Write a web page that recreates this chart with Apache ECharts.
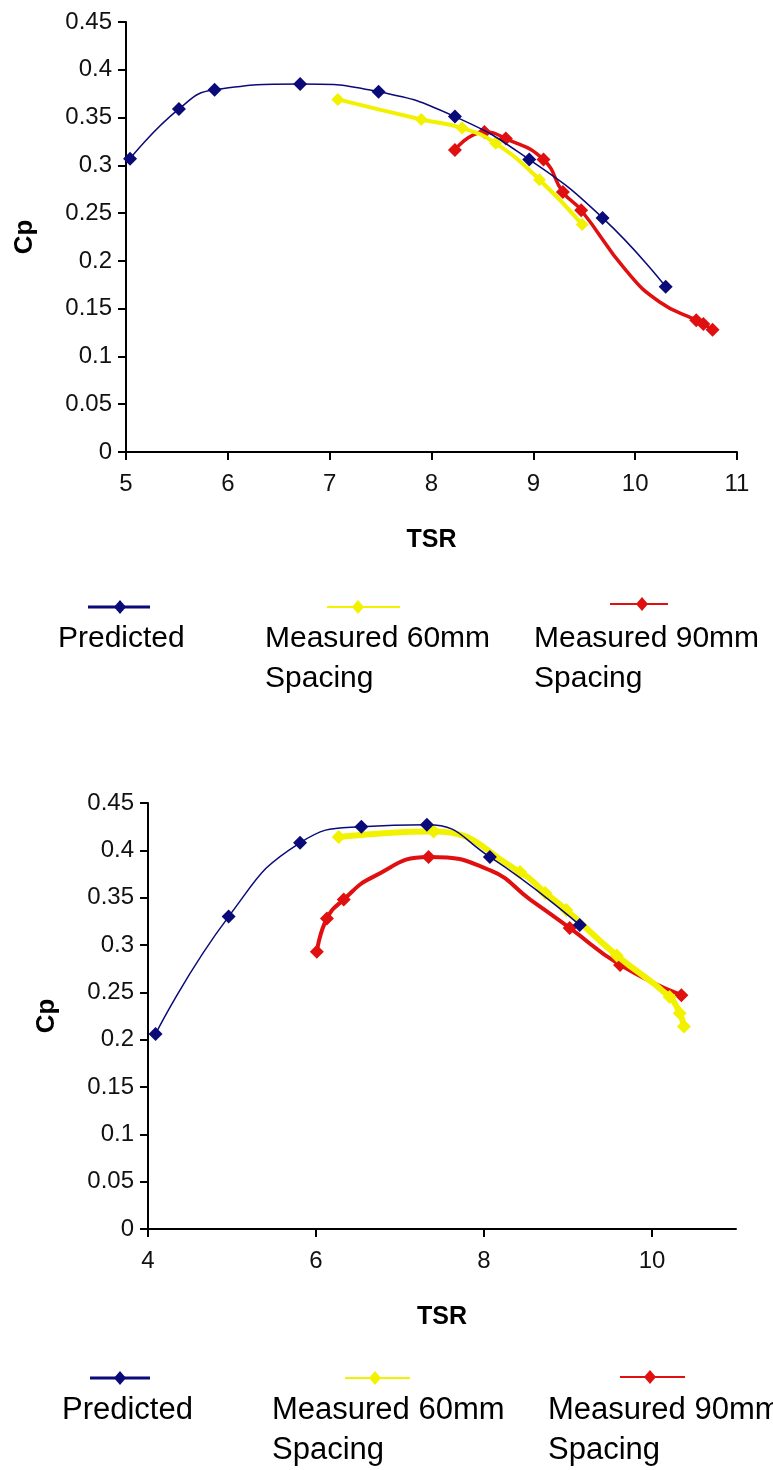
<!DOCTYPE html>
<html>
<head>
<meta charset="utf-8">
<script src="https://cdn.jsdelivr.net/npm/echarts@6/dist/echarts.min.js"></script>
<style>
html,body{margin:0;padding:0;background:#fff;}
#c{width:773px;height:1470px;}
</style>
</head>
<body>
<div id="c"></div>
<script>
// ---------- DATA ----------
const seriesNames = ['Predicted', 'Measured 60mm\nSpacing', 'Measured 90mm\nSpacing'];
const topXTicks = [5, 6, 7, 8, 9, 10, 11];
const botXTicks = [4, 6, 8, 10];

// Top chart (marker flag: 1 = marker drawn, 0 = point, no marker)
const topPredX = [5.04, 5.52, 5.87, 6.71, 7.48, 8.23, 8.96, 9.68, 10.30];
const topPredY = [0.307, 0.359, 0.379, 0.385, 0.377, 0.351, 0.306, 0.245, 0.173];
const topPredM = [1, 1, 1, 1, 1, 1, 1, 1, 1];
const top60X = [7.08, 7.90, 8.30, 8.63, 9.06, 9.48];
const top60Y = [0.369, 0.348, 0.339, 0.323, 0.285, 0.238];
const top60M = [1, 1, 1, 1, 1, 1];
const top90X = [8.23, 8.52, 8.73, 9.10, 9.29, 9.47, 9.91, 10.24, 10.60, 10.67, 10.76];
const top90Y = [0.316, 0.335, 0.328, 0.306, 0.272, 0.253, 0.190, 0.157, 0.138, 0.134, 0.128];
const top90M = [1, 1, 1, 1, 1, 1, 0, 0, 1, 1, 1];

// Bottom chart
const botPredX = [4.09, 4.96, 5.81, 6.54, 7.32, 8.07, 9.14];
const botPredY = [0.206, 0.330, 0.408, 0.425, 0.427, 0.393, 0.321];
const botPredM = [1, 1, 1, 1, 1, 1, 1];
const bot60X = [6.27, 7.40, 8.43, 8.73, 8.98, 9.58, 10.21, 10.33, 10.38];
const bot60Y = [0.414, 0.420, 0.377, 0.355, 0.337, 0.289, 0.245, 0.228, 0.214];
const bot60M = [1, 1, 1, 1, 1, 1, 1, 1, 1];
const bot90X = [6.01, 6.13, 6.33, 6.68, 7.34, 8.07, 8.55, 9.02, 9.62, 10.35];
const bot90Y = [0.293, 0.328, 0.348, 0.372, 0.393, 0.379, 0.348, 0.318, 0.279, 0.247];
const bot90M = [1, 1, 1, 0, 1, 0, 0, 1, 1, 1];

// ---------- STYLE ----------
const FONT = 'Liberation Sans, Arial, sans-serif';
const colors = ['#0a0a78', '#f2f200', '#e01010'];
const build = (xs, ys, ms) => xs.map((x, i) => ms[i] ? [x, ys[i]] : { value: [x, ys[i]], symbol: 'none' });

function yAxis(gridIndex) {
  return {
    type: 'value', gridIndex, min: 0, max: 0.45, interval: 0.05,
    name: 'Cp', nameLocation: 'middle', nameGap: 88, nameRotate: 90,
    nameTextStyle: { fontFamily: FONT, fontSize: 26, fontWeight: 'bold', color: '#000' },
    axisLine: { show: true, lineStyle: { color: '#000', width: 2 } },
    axisTick: { show: true, inside: false, length: 8, lineStyle: { color: '#000', width: 2 } },
    axisLabel: { fontFamily: FONT, fontSize: 24, color: '#111', margin: 14,
      formatter: v => String(+v.toFixed(2)) },
    splitLine: { show: false }
  };
}
function xAxis(gridIndex, min, max, interval, ticks) {
  return {
    type: 'value', gridIndex, min, max, interval,
    name: 'TSR', nameLocation: 'middle', nameGap: 76,
    nameTextStyle: { fontFamily: FONT, fontSize: 25, fontWeight: 'bold', color: '#000', verticalAlign: 'top' },
    axisLine: { show: true, onZero: false, lineStyle: { color: '#000', width: 2 } },
    axisTick: { show: true, length: 8, lineStyle: { color: '#000', width: 2 }, customValues: ticks },
    axisLabel: { fontFamily: FONT, fontSize: 24, color: '#111', margin: 20, customValues: ticks },
    splitLine: { show: false }
  };
}
function line(name, data, idx, xi, width, size) {
  return {
    type: 'line', name, xAxisIndex: xi, yAxisIndex: xi,
    data, smooth: 0.5,
    symbol: 'diamond', symbolSize: size, showSymbol: true,
    lineStyle: { color: colors[idx], width },
    itemStyle: { color: colors[idx] },
    z: 5 - idx
  };
}

// legend drawn as graphics (icon above text, like the original)
function legendGraphics(items, fontSize) {
  const out = [];
  items.forEach(it => {
    out.push({ type: 'line', shape: { x1: it.lx1, y1: it.ly, x2: it.lx2, y2: it.ly },
      style: { stroke: colors[it.i], lineWidth: it.i === 0 ? 3 : 2 } });
    out.push({ type: 'polygon', shape: { points: [[it.mx, it.ly - 7], [it.mx + 6, it.ly], [it.mx, it.ly + 7], [it.mx - 6, it.ly]] },
      style: { fill: colors[it.i] } });
    out.push({ type: 'text', x: it.tx, y: it.ty,
      style: { text: seriesNames[it.i], fontFamily: FONT, fontSize, fill: '#000', lineHeight: 40, verticalAlign: 'top' } });
  });
  return out;
}

const chart = echarts.init(document.getElementById('c'), null, { renderer: 'canvas' });
chart.setOption({
  backgroundColor: '#fff',
  animation: false,
  grid: [
    { left: 126, top: 22, width: 611, height: 430 },
    { left: 148, top: 803, width: 588, height: 426 }
  ],
  xAxis: [xAxis(0, 5, 11, 1, topXTicks), xAxis(1, 4, 11, 2, botXTicks)],
  yAxis: [yAxis(0), yAxis(1)],
  series: [
    line(seriesNames[0], build(topPredX, topPredY, topPredM), 0, 0, 1.5, 14),
    line(seriesNames[1], build(top60X, top60Y, top60M), 1, 0, 4, 13),
    line(seriesNames[2], build(top90X, top90Y, top90M), 2, 0, 3.5, 14),
    line(seriesNames[0], build(botPredX, botPredY, botPredM), 0, 1, 1.5, 14),
    line(seriesNames[1], build(bot60X, bot60Y, bot60M), 1, 1, 6, 14),
    line(seriesNames[2], build(bot90X, bot90Y, bot90M), 2, 1, 4, 14)
  ],
  graphic: legendGraphics([
    { i: 0, lx1: 88, lx2: 150, mx: 120, ly: 607, tx: 58, ty: 619 },
    { i: 1, lx1: 327, lx2: 400, mx: 358, ly: 607, tx: 265, ty: 619 },
    { i: 2, lx1: 610, lx2: 668, mx: 642, ly: 604, tx: 534, ty: 619 }
  ], 30).concat(legendGraphics([
    { i: 0, lx1: 90, lx2: 150, mx: 120, ly: 1378, tx: 62, ty: 1390 },
    { i: 1, lx1: 345, lx2: 410, mx: 375, ly: 1378, tx: 272, ty: 1390 },
    { i: 2, lx1: 620, lx2: 685, mx: 650, ly: 1377, tx: 548, ty: 1390 }
  ], 31))
});
</script>
</body>
</html>
